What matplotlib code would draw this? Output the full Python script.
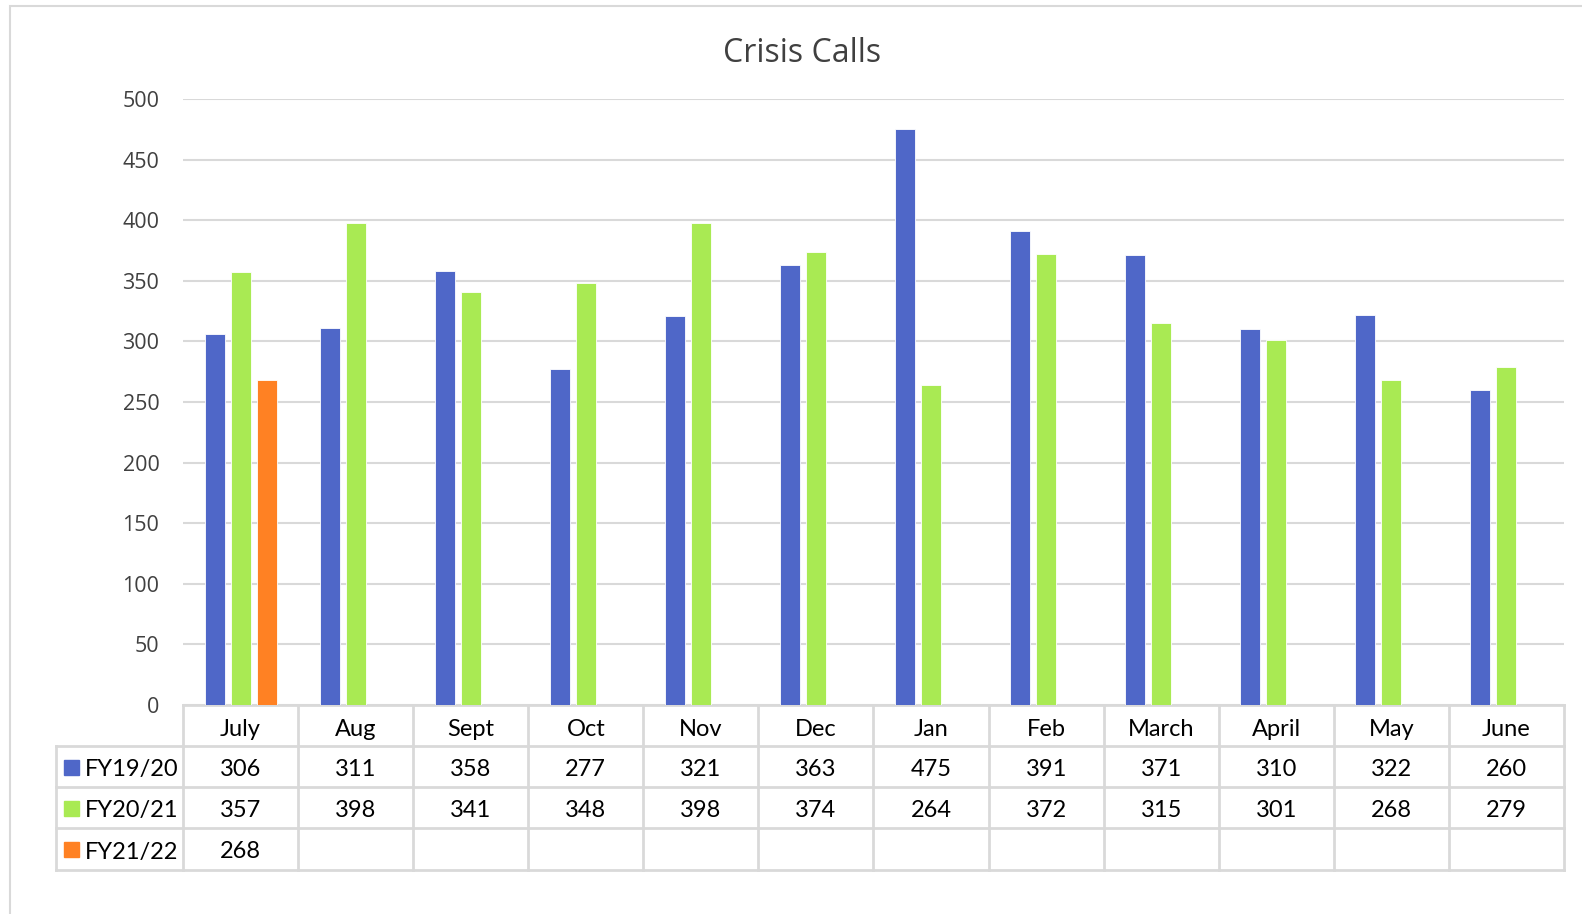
import matplotlib
matplotlib.use("Agg")
import matplotlib.pyplot as plt
from matplotlib.patches import Rectangle
from matplotlib.lines import Line2D
import numpy as np

months = ["July", "Aug", "Sept", "Oct", "Nov", "Dec", "Jan", "Feb", "March", "April", "May", "June"]
series_names = ["FY19/20", "FY20/21", "FY21/22"]
fy1920 = [306, 311, 358, 277, 321, 363, 475, 391, 371, 310, 322, 260]
fy2021 = [357, 398, 341, 348, 398, 374, 264, 372, 315, 301, 268, 279]
fy2122 = [268]
colors = ["#4F67C8", "#A9EA53", "#FF8123"]
yticks = [0, 50, 100, 150, 200, 250, 300, 350, 400, 450, 500]

W, H = 1582, 914
fig = plt.figure(figsize=(W / 100, H / 100), dpi=100)
grid_c = "#D9D9D9"

# plot area in pixels: x 183..1564, y 99..705
L, R, T, B = 183, 1564, 99, 705
ax = fig.add_axes([L / W, 1 - B / H, (R - L) / W, (B - T) / H])

# outer chart border
fig.patches.append(Rectangle((10 / W, -0.1), 1.2, 1 - 6 / H + 0.1, transform=fig.transFigure,
                             fill=False, edgecolor=grid_c, lw=1.5))

x = np.arange(len(months))
width = 0.174
step = 0.226
for i, vals in enumerate([fy1920, fy2021, fy2122]):
    xs = x[:len(vals)] + (i - 1) * step
    ax.bar(xs, vals, width=width, color=colors[i], edgecolor="white", linewidth=0.6, zorder=3)

ax.set_xlim(-0.5, len(months) - 0.5)
ax.set_ylim(0, 500)
ax.set_yticks(yticks)
ax.set_xticks([])
ax.yaxis.grid(True, color=grid_c, lw=1.5, zorder=0)
for s in ax.spines.values():
    s.set_visible(False)
ax.tick_params(axis="y", length=0, pad=17, labelsize=15.5, labelcolor="#404040")
for lab in ax.get_yticklabels():
    lab.set_fontfamily("Open Sans")

fig.text(802 / W, 1 - 53 / H, "Crisis Calls", ha="center", va="center",
         fontsize=23, color="#404040", family="Open Sans")

# data table below the axis
trans = ax.get_xaxis_transform()
def ay(py):
    return (B - py) / (B - T)

row_y = [705, 746, 787, 828, 870]
leg_left = 56
leg_left_d = -0.5 - (L - leg_left) / ((R - L) / len(months))
# horizontal lines
ax.add_line(Line2D([-0.5, 11.5], [ay(705)] * 2, transform=trans, color=grid_c, lw=2, clip_on=False))
for py in row_y[1:]:
    ax.add_line(Line2D([leg_left_d, 11.5], [ay(py)] * 2, transform=trans, color=grid_c, lw=2, clip_on=False))
# vertical lines
for k in range(len(months) + 1):
    ax.add_line(Line2D([k - 0.5] * 2, [ay(705), ay(870)], transform=trans, color=grid_c, lw=2, clip_on=False))
ax.add_line(Line2D([leg_left_d] * 2, [ay(746), ay(870)], transform=trans, color=grid_c, lw=2, clip_on=False))

tfont = dict(family="Lato", fontsize=17, color="black", ha="center", va="center")
for k, m in enumerate(months):
    ax.text(k, ay(729), m, transform=trans, clip_on=False, **tfont)
for r, vals in enumerate([fy1920, fy2021, fy2122]):
    yc_px = 0.5 * (row_y[r + 1] + row_y[r + 2]) + 3
    for k, v in enumerate(vals):
        ax.text(k, ay(yc_px), str(v), transform=trans, clip_on=False, **tfont)
    # legend key + name
    fig.patches.append(Rectangle((64 / W, 1 - (yc_px + 5) / H),
                                 15 / W, 15 / H, transform=fig.transFigure, color=colors[r]))
    fig.text(85 / W, 1 - yc_px / H, series_names[r],
             ha="left", va="center", family="Lato", fontsize=17, color="black")

fig.savefig("out.png", dpi=100)
